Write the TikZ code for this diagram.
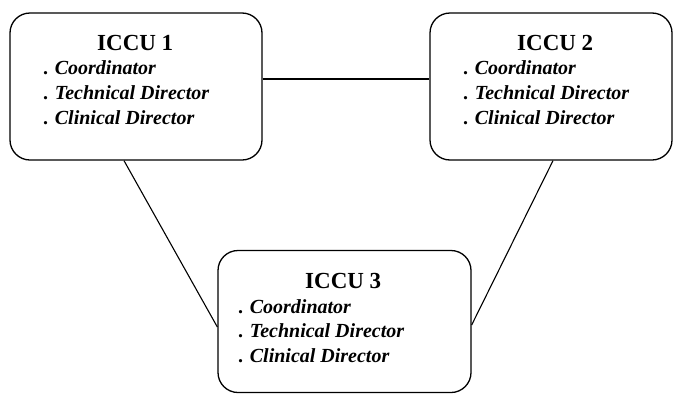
\documentclass[tikz,border=0pt]{standalone}
\usepackage{fontspec}
\setmainfont{Liberation Serif}
\newfontfamily\bisf{LiberationSerif-BoldItalic.ttf}
\begin{document}
\begin{tikzpicture}[x=1pt,y=-1pt,
  box/.style={draw, line width=1.3pt, rounded corners=20pt, inner sep=0pt},
  ttl/.style={anchor=base west, inner sep=0pt, font=\fontsize{23}{23}\selectfont\bfseries},
  itm/.style={anchor=base west, inner sep=0pt, font=\fontsize{20}{20}\selectfont\bfseries},
  conn/.style={line width=1.1pt}]
\useasboundingbox (0,0) rectangle (677,394);
% boxes
\node[box, minimum width=252pt, minimum height=147pt] (b1) at (136,86.5) {};
\node[box, minimum width=242pt, minimum height=147pt] (b2) at (551,86.5) {};
\node[box, minimum width=253pt, minimum height=142pt] (b3) at (344.5,321.5) {};
% box 1 texts
\node[ttl] (t1) at (97,50) {ICCU 1};
\node[itm] (t1a) at (43,74) {. {\bisf Coordinator}};
\node[itm] (t1b) at (43,99) {. {\bisf Technical Director}};
\node[itm] (t1c) at (43,124) {. {\bisf Clinical Director}};
% box 2 texts
\node[ttl] (t2) at (517,50) {ICCU 2};
\node[itm] (t2a) at (463,74) {. {\bisf Coordinator}};
\node[itm] (t2b) at (463,99) {. {\bisf Technical Director}};
\node[itm] (t2c) at (463,124) {. {\bisf Clinical Director}};
% box 3 texts
\node[ttl] (t3) at (305,288) {ICCU 3};
\node[itm] (t3a) at (238,313) {. {\bisf Coordinator}};
\node[itm] (t3b) at (238,337) {. {\bisf Technical Director}};
\node[itm] (t3c) at (238,362) {. {\bisf Clinical Director}};
% connectors
\draw[conn] (b1.east |- 0,79) -- (b2.west |- 0,79);
\draw[conn] (b1.south -| 124,0) -- (b3.west |- 0,327);
\draw[conn] (b2.south -| 553,0) -- (b3.east |- 0,325);
\end{tikzpicture}
\end{document}
